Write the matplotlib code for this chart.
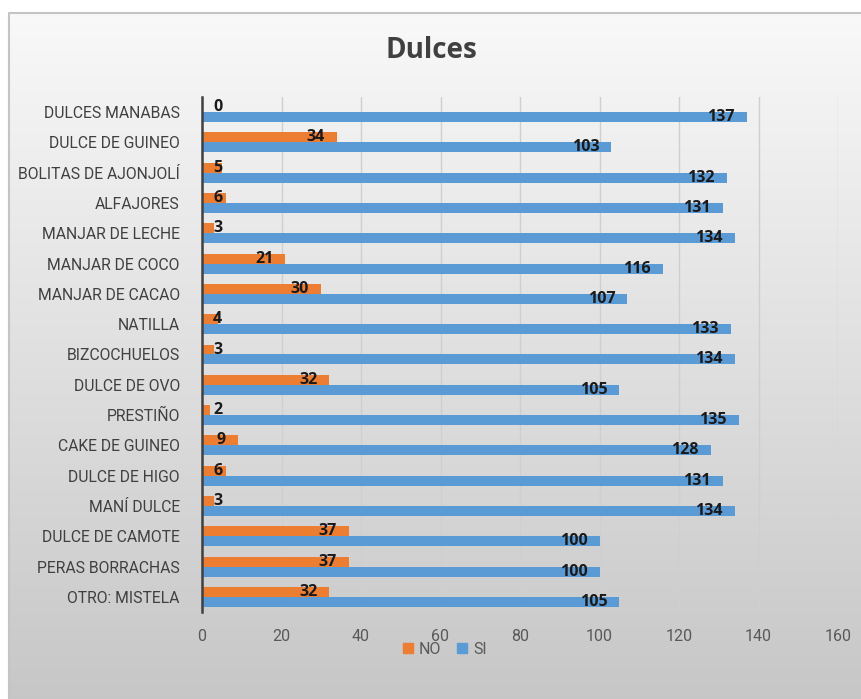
import numpy as np
import matplotlib
matplotlib.use("Agg")
import matplotlib.pyplot as plt
from matplotlib.patches import Patch

# ---------------------------------------------------------------------
# Data
# ---------------------------------------------------------------------
categories = [
    "DULCES MANABAS", "DULCE DE GUINEO", "BOLITAS DE AJONJOLÍ", "ALFAJORES",
    "MANJAR DE LECHE", "MANJAR DE COCO", "MANJAR DE CACAO", "NATILLA",
    "BIZCOCHUELOS", "DULCE DE OVO", "PRESTIÑO", "CAKE DE GUINEO",
    "DULCE DE HIGO", "MANÍ DULCE", "DULCE DE CAMOTE", "PERAS BORRACHAS",
    "OTRO: MISTELA",
]
no_values = [0, 34, 5, 6, 3, 21, 30, 4, 3, 32, 2, 9, 6, 3, 37, 37, 32]
si_values = [137, 103, 132, 131, 134, 116, 107, 133, 134, 105, 135, 128,
             131, 134, 100, 100, 105]
x_ticks = [0, 20, 40, 60, 80, 100, 120, 140, 160]

ORANGE = "#ED7D31"
BLUE = "#5B9BD5"
W, H = 861, 699
DPI = 100
LABEL_FONT = ["Roboto", "DejaVu Sans"]

fig = plt.figure(figsize=(W / DPI, H / DPI), dpi=DPI)
fig.patch.set_facecolor("white")

# chart area background: vertical grey gradient, framed top/left
bg = fig.add_axes([9 / W, 0, 1 - 9 / W, 1 - 13 / H], zorder=-10)
grad = np.linspace(0, 1, 256).reshape(-1, 1)
top_c = np.array([0.975, 0.975, 0.975])
bot_c = np.array([0.78, 0.78, 0.78])
img = top_c + (bot_c - top_c) * grad
bg.imshow(img[:, None, :].repeat(2, axis=1), aspect="auto",
          extent=[0, 1, 0, 1], origin="upper")
bg.set_xlim(0, 1)
bg.set_ylim(0, 1)
bg.axis("off")
bg.plot([0, 0, 1], [0, 1, 1], color="#c4c4c4", lw=1.5, clip_on=False)

# plot area
ax = fig.add_axes([202 / W, 1 - 612 / H, (838 - 202) / W, (612 - 97) / H])
ax.set_facecolor("none")

y = np.arange(len(categories))
h = 0.33
ax.barh(y - h / 2, no_values, height=h, color=ORANGE, zorder=3)
ax.barh(y + h / 2, si_values, height=h, color=BLUE, zorder=3)

ax.set_xlim(0, 160)
ax.set_ylim(len(categories) - 0.5, -0.5)
ax.set_xticks(x_ticks)
ax.set_yticks(y)
ax.set_yticklabels(categories, fontsize=11.3, color="#404040", family=LABEL_FONT)
ax.tick_params(axis="y", length=0, pad=16)
ax.tick_params(axis="x", length=0, pad=12, labelsize=11.5, labelcolor="#595959")
for lab in ax.get_xticklabels():
    lab.set_family(LABEL_FONT)

ax.grid(axis="x", color="#cfcfcf", lw=1, zorder=0)
for s in ["top", "right", "bottom"]:
    ax.spines[s].set_visible(False)
ax.spines["left"].set_color("#404040")
ax.spines["left"].set_linewidth(1.8)
ax.spines["left"].set_zorder(5)

# data labels: inside end, pushed right when the bar is too short
px_per_unit = (838 - 202) / 160.0
for vals, off in [(no_values, -h / 2), (si_values, h / 2)]:
    for i, v in enumerate(vals):
        txt = str(v)
        width_px = 9 * len(txt)
        right_px = v * px_per_unit - 12
        if right_px - width_px < 11:
            ax.annotate(txt, (0, i + off), xytext=(11 * 0.72, 0),
                        textcoords="offset points", ha="left", va="center",
                        fontsize=11.5, fontweight="bold", color="#1a1a1a",
                        family="Open Sans", zorder=6)
        else:
            ax.annotate(txt, (v, i + off), xytext=(-12 * 0.72, 0),
                        textcoords="offset points", ha="right", va="center",
                        fontsize=11.5, fontweight="bold", color="#1a1a1a",
                        family="Open Sans", zorder=6)

fig.text(431 / W, 1 - 50 / H, "Dulces",
         ha="center", va="center", fontsize=20, fontweight="bold",
         color="#404040", family=["Open Sans", "DejaVu Sans"])

handles = [Patch(color=ORANGE, label="NO"), Patch(color=BLUE, label="SI")]
leg = fig.legend(handles=handles, loc="center", bbox_to_anchor=(445 / W, 1 - 649 / H),
                 ncol=2, frameon=False, handlelength=0.6, handleheight=0.6,
                 handletextpad=0.4, columnspacing=1.0,
                 prop={"family": LABEL_FONT, "size": 11.5})
for t in leg.get_texts():
    t.set_color("#595959")

fig.savefig("out.png", dpi=DPI)
